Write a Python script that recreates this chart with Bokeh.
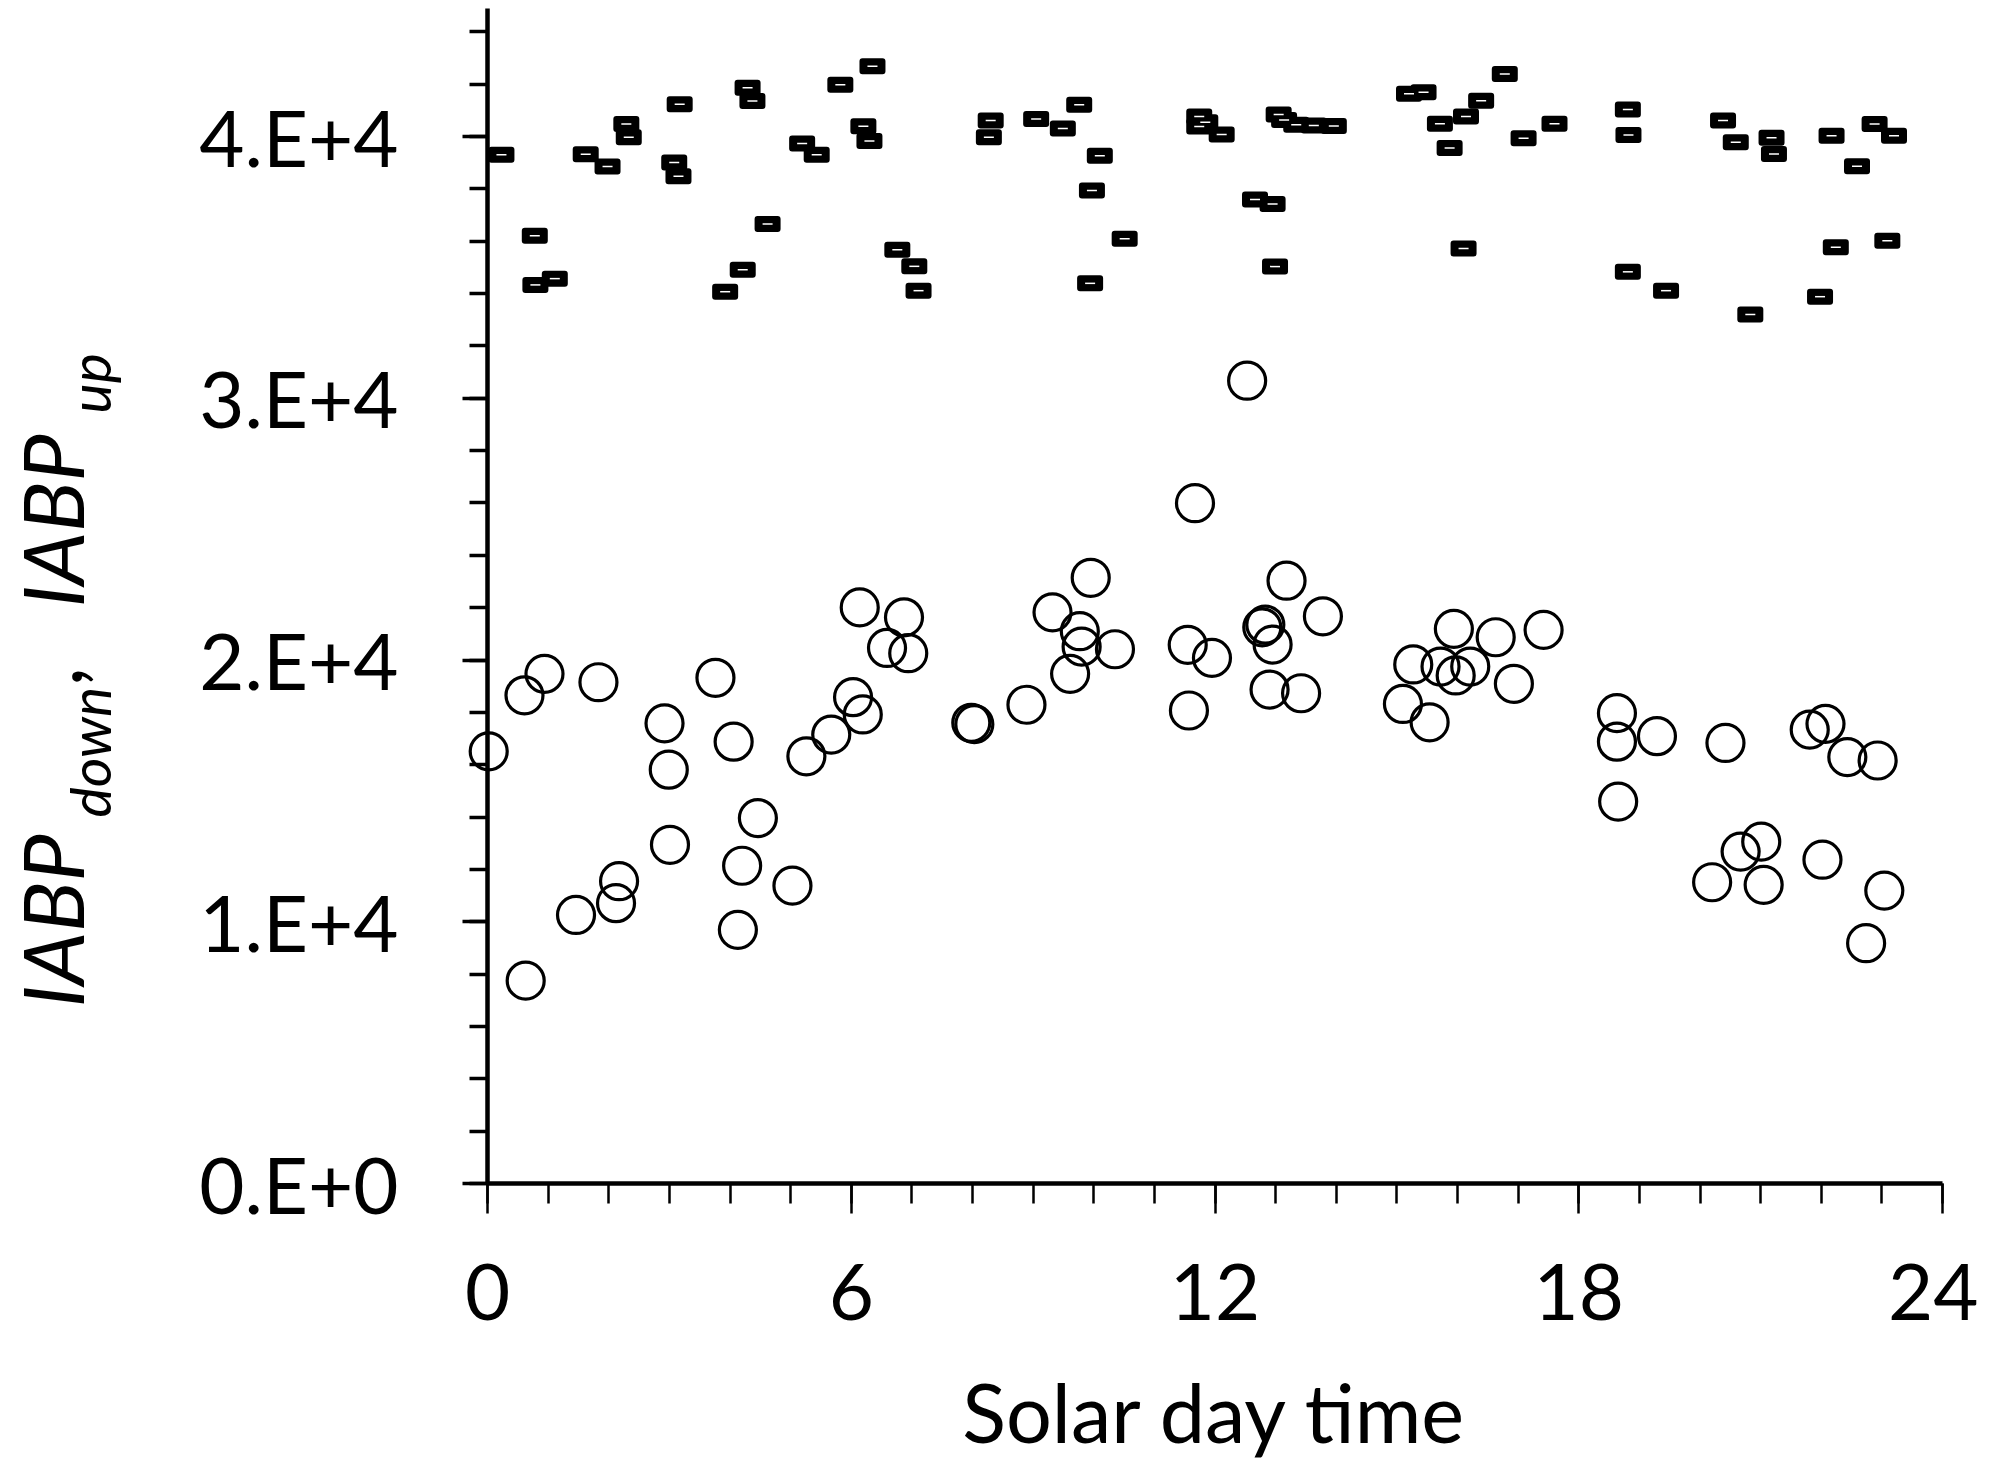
import math
from bokeh.plotting import figure
from bokeh.models import FixedTicker, Range1d, Label
from bokeh.embed import file_html
from bokeh.resources import INLINE

# ---------------- data ----------------
# IABP_up (rectangle markers)
x_up = [0.23, 0.78, 0.79, 1.11, 1.62, 1.98, 2.29, 2.33, 3.17, 3.08,
        3.15, 3.92, 4.21, 4.29, 4.37, 4.62, 5.19, 5.43, 5.82, 6.35,
        6.20, 6.30, 6.76, 7.04, 7.11, 8.30, 8.27, 9.05, 9.49, 9.76,
        10.10, 9.97, 10.51, 9.94, 11.74, 11.84, 11.74, 12.11, 12.66, 12.95,
        12.99, 13.05, 13.14, 13.34, 13.63, 13.96, 15.20, 15.44, 15.71, 16.14,
        16.39, 15.87, 16.10, 16.78, 17.09, 17.60, 18.81, 18.82, 18.81, 19.44,
        20.38, 20.59, 20.83, 21.18, 21.22, 22.17, 22.24, 21.98, 22.88, 23.20,
        22.59, 23.09]
y_up = [39300, 36210, 34330, 34570, 39320, 38850, 40480, 39970, 41230, 39010,
        38480, 34070, 34910, 41860, 41360, 36660, 39730, 39300, 41980, 42680,
        40390, 39830, 35670, 35040, 34110, 40610, 39970, 40670, 40310, 41210,
        39260, 37940, 36090, 34390, 40760, 40540, 40380, 40080, 37590, 37420,
        35030, 40840, 40630, 40450, 40420, 40400, 41630, 41690, 40490, 40760,
        41370, 39560, 35720, 42390, 39930, 40490, 41030, 40060, 34830, 34110,
        40610, 39780, 33200, 39950, 39330, 40030, 35770, 33880, 40480, 40030,
        38860, 36020]

# IABP_down (open circles)
x_down = [0.02, 0.61, 0.94, 1.83, 2.92, 2.99, 3.01, 2.17, 2.12, 1.46,
          0.63, 3.76, 4.06, 4.46, 4.20, 4.13, 5.03, 5.26, 5.67, 6.03,
          6.19, 6.14, 6.87, 6.59, 6.94, 7.98, 8.03, 12.53, 11.67, 9.95,
          9.32, 9.77, 9.80, 10.35, 9.61, 8.89, 11.55, 11.95, 11.57, 13.18,
          12.78, 12.83, 12.95, 13.78, 12.90, 13.42, 15.94, 15.27, 15.72, 16.21,
          15.97, 16.63, 15.10, 15.54, 17.42, 16.93, 18.63, 18.63, 19.29, 18.65,
          20.42, 21.81, 22.07, 22.43, 22.93, 21.01, 20.67, 20.20, 21.05, 22.02,
          23.04, 22.74]
y_down = [16510, 18650, 19470, 19150, 17580, 15810, 12940, 11550, 10710, 10260,
          7750, 19320, 16880, 13960, 12140, 9690, 11380, 16320, 17150, 18580,
          17920, 22010, 21630, 20460, 20260, 17600, 17550, 30670, 25990, 23140,
          21820, 21100, 20510, 20410, 19470, 18290, 20580, 20080, 18070, 23030,
          21250, 21350, 20590, 21670, 18870, 18730, 21190, 19830, 19750, 19750,
          19410, 20870, 18320, 17620, 21150, 19090, 17970, 16880, 17090, 14590,
          16830, 17340, 17560, 16290, 16160, 13060, 12680, 11510, 11410, 12370,
          11190, 9180]

x_ticks = [0, 6, 12, 18, 24]
y_ticks = [0, 10000, 20000, 30000, 40000]
y_tick_labels = ["0.E+0", "1.E+4", "2.E+4", "3.E+4", "4.E+4"]
x_title = "Solar day time"

# ---------------- geometry ----------------
FONT = "Lato"
TICK_FS = 78
W, H = 1978, 1459
X_END, Y_END = 24, 44890
FL, FB = 487, 1183                 # canvas pixel of x=0 and y=0
PX_PER_X = 1455 / 24.0             # canvas px per hour
PX_PER_Y = 1047 / 40000.0          # canvas px per unit
BASE_SHIFT = 0.39                  # label anchor -> alphabetic baseline (em)

def dx(cx):
    return (cx - FL) / PX_PER_X
def dy(cy):
    return (FB - cy) / PX_PER_Y

# frame covers the whole canvas; axes are pinned at 0 and bounded
p = figure(width=W, height=H, output_backend="svg", toolbar_location=None,
           x_range=Range1d(dx(0), dx(W)), y_range=Range1d(dy(H), dy(0)),
           min_border=0, min_border_left=0, min_border_right=0,
           min_border_top=0, min_border_bottom=0)
p.outline_line_color = None
p.xgrid.visible = False
p.ygrid.visible = False
p.background_fill_color = "white"
p.border_fill_color = "white"

# x axis
xa = p.xaxis[0]
xa.fixed_location = 0
xa.bounds = (0, X_END)
xa.ticker = FixedTicker(ticks=x_ticks, minor_ticks=list(range(0, 25)))
xa.axis_line_width = 4.5
xa.axis_line_color = "black"
xa.major_tick_in = 0
xa.major_tick_out = 30
xa.minor_tick_in = 0
xa.minor_tick_out = 20
xa.major_tick_line_width = 2.5
xa.minor_tick_line_width = 2.5
xa.major_label_text_font = FONT
xa.major_label_text_font_size = f"{TICK_FS}px"
xa.major_label_text_color = "black"
xa.major_label_standoff = 50

# y axis
ya = p.yaxis[0]
ya.fixed_location = 0
ya.bounds = (0, Y_END)
ya.ticker = FixedTicker(ticks=y_ticks, minor_ticks=list(range(0, 44001, 2000)))
ya.major_label_overrides = {t: s for t, s in zip(y_ticks, y_tick_labels)}
ya.axis_line_width = 4.5
ya.axis_line_color = "black"
ya.major_tick_in = 0
ya.major_tick_out = 25
ya.minor_tick_in = 0
ya.minor_tick_out = 18
ya.major_tick_line_width = 3.5
ya.minor_tick_line_width = 3.5
ya.major_label_text_font = FONT
ya.major_label_text_font_size = f"{TICK_FS}px"
ya.major_label_text_color = "black"
ya.major_label_standoff = 64

# ---------------- markers ----------------
p.scatter(x_down, y_down, marker="circle", size=37, fill_color=None,
          line_color="black", line_width=3.2)
p.rect(x_up, y_up, width=20, height=10, width_units="screen", height_units="screen",
       fill_color="black", line_color="black", line_width=6, line_join="round")
p.scatter(x_up, y_up, marker="dash", size=10, line_color="white", line_width=1.5)

# ---------------- titles ----------------
XT_FS = 81
p.add_layout(Label(x=X_END / 2, y=dy(1443 - BASE_SHIFT * XT_FS), text=x_title,
                   text_font=FONT, text_font_size=f"{XT_FS}px", text_color="black",
                   text_align="center", text_baseline="alphabetic"))

# y title: IABP_down, IABP_up  (rotated pieces; baseline x, start y, font px)
pieces = [
    ("IABP", 84, 1007, 84),
    ("down", 111, 817, 57),
    (",", 84, 683, 84),
    ("IABP", 84, 607, 84),
    ("up", 111, 413, 57),
]
for txt, bx, by, fs in pieces:
    p.add_layout(Label(x=dx(bx - BASE_SHIFT * fs), y=dy(by), text=txt, angle=math.pi / 2,
                       text_font=FONT, text_font_style="italic",
                       text_font_size=f"{fs}px", text_color="black",
                       text_align="left", text_baseline="alphabetic"))

open("out.html", "w").write(file_html(p, INLINE))
